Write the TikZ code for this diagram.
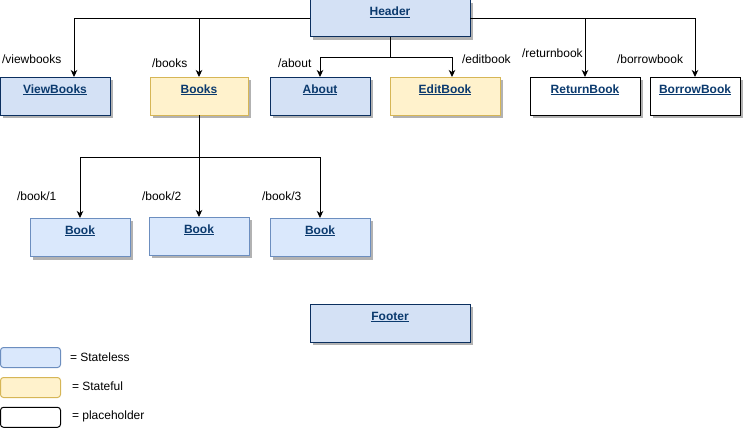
\documentclass[tikz,border=0pt]{standalone}
\usepackage{fontspec}
\setmainfont{Liberation Sans}
\usetikzlibrary{shadows,arrows.meta}
\definecolor{navyfill}{HTML}{D4E1F5}
\definecolor{navydraw}{HTML}{0B2F5F}
\definecolor{bluefill}{HTML}{DAE8FC}
\definecolor{bluedraw}{HTML}{6C8EBF}
\definecolor{yellowfill}{HTML}{FFF2CC}
\definecolor{yellowdraw}{HTML}{D6B656}
\definecolor{linkcol}{HTML}{0B3A6E}
\begin{document}
\begin{tikzpicture}[x=1pt,y=-1pt,
  font=\fontsize{12}{14}\selectfont,
  every node/.style={inner sep=0pt, outer sep=0pt},
  boxbase/.style={rectangle, line width=1pt, anchor=north west},
  shad/.style={drop shadow={shadow xshift=3pt, shadow yshift=-3pt, fill=black!30, opacity=1}},
  navybox/.style={boxbase, shad, fill=navyfill, draw=navydraw},
  bluebox/.style={boxbase, shad, fill=bluefill, draw=bluedraw},
  yellowbox/.style={boxbase, shad, fill=yellowfill, draw=yellowdraw},
  plainbox/.style={boxbase, shad, fill=white, draw=black},
  boxtext/.style={font=\fontsize{12}{14}\selectfont\bfseries, text=linkcol, anchor=base, yshift=-16pt},
  edgetext/.style={anchor=west},
  legbox/.style={rectangle, rounded corners=3pt, line width=1pt, anchor=north west, minimum width=60pt, minimum height=20pt},
  arr/.style={line width=1pt, -{Stealth[length=7pt,width=6.5pt,inset=2pt]}}
]
\useasboundingbox (0,0) rectangle (743,428);

% level 0
\node[navybox, minimum width=160pt, minimum height=37pt,
  label={[boxtext]north:\underline{Header}}] (header) at (310,0) {};

% level 1
\node[navybox, minimum width=110pt, minimum height=38pt,
  label={[boxtext]north:\underline{ViewBooks}}] (viewbooks) at (0,77) {};
\node[yellowbox, minimum width=98pt, minimum height=38pt,
  label={[boxtext]north:\underline{Books}}] (books) at (150,77) {};
\node[navybox, minimum width=100pt, minimum height=38pt,
  label={[boxtext]north:\underline{About}}] (about) at (270,77) {};
\node[yellowbox, minimum width=110pt, minimum height=38pt,
  label={[boxtext]north:\underline{EditBook}}] (editbook) at (390,77) {};
\node[plainbox, minimum width=110pt, minimum height=38pt,
  label={[boxtext]north:\underline{ReturnBook}}] (returnbook) at (530,77) {};
\node[plainbox, minimum width=90pt, minimum height=38pt,
  label={[boxtext]north:\underline{BorrowBook}}] (borrowbook) at (650,77) {};

% level 2
\node[bluebox, minimum width=100pt, minimum height=38.5pt,
  label={[boxtext]north:\underline{Book}}] (book1) at (30,218) {};
\node[bluebox, minimum width=100pt, minimum height=38pt,
  label={[boxtext]north:\underline{Book}}] (book2) at (149,217) {};
\node[bluebox, minimum width=100pt, minimum height=38.5pt,
  label={[boxtext]north:\underline{Book}}] (book3) at (270,218) {};

% footer
\node[navybox, minimum width=160pt, minimum height=38pt,
  label={[boxtext]north:\underline{Footer}}] (footer) at (310,304) {};

% connectors
\draw[arr] (header.west) -| ([xshift=19pt]viewbooks.north);
\draw[arr] (header.west) -| (books.north);
\draw[arr] (header.south) |- ([yshift=20pt]about.north) -- (about.north);
\draw[arr] (header.south) |- ([xshift=7pt,yshift=20pt]editbook.north) -- ([xshift=7pt]editbook.north);
\draw[arr] (header.east) -| (returnbook.north);
\draw[arr] (header.east) -| (borrowbook.north);
\draw[arr] (books.south) |- ([yshift=61pt]book1.north) -- (book1.north);
\draw[arr] (books.south) -- (book2.north);
\draw[arr] (books.south) |- ([yshift=61pt]book3.north) -- (book3.north);

% connector labels
\node[edgetext] (lviewbooks) at (2,59) {/viewbooks};
\node[edgetext] (lbooks) at (152,63.5) {/books};
\node[edgetext] (labout) at (278,63.5) {/about};
\node[edgetext] (leditbook) at (462,59) {/editbook};
\node[edgetext] (lreturnbook) at (522,53.5) {/returnbook};
\node[edgetext] (lborrowbook) at (617,59) {/borrowbook};
\node[edgetext] (lbook1) at (17,196) {/book/1};
\node[edgetext] (lbook2) at (142,196) {/book/2};
\node[edgetext] (lbook3) at (262,196) {/book/3};

% legend
\node[legbox, fill=bluefill, draw=bluedraw] (legstateless) at (0.5,347.5) {};
\node[legbox, fill=yellowfill, draw=yellowdraw] (legstateful) at (0.5,377.5) {};
\node[legbox, fill=white, draw=black] (legplaceholder) at (0.5,407.3) {};
\node[edgetext] (tstateless) at (70,357.3) {= Stateless};
\node[edgetext] (tstateful) at (72,386.3) {= Stateful};
\node[edgetext] (tplaceholder) at (72,416.7) {= placeholder};
\end{tikzpicture}
\end{document}
